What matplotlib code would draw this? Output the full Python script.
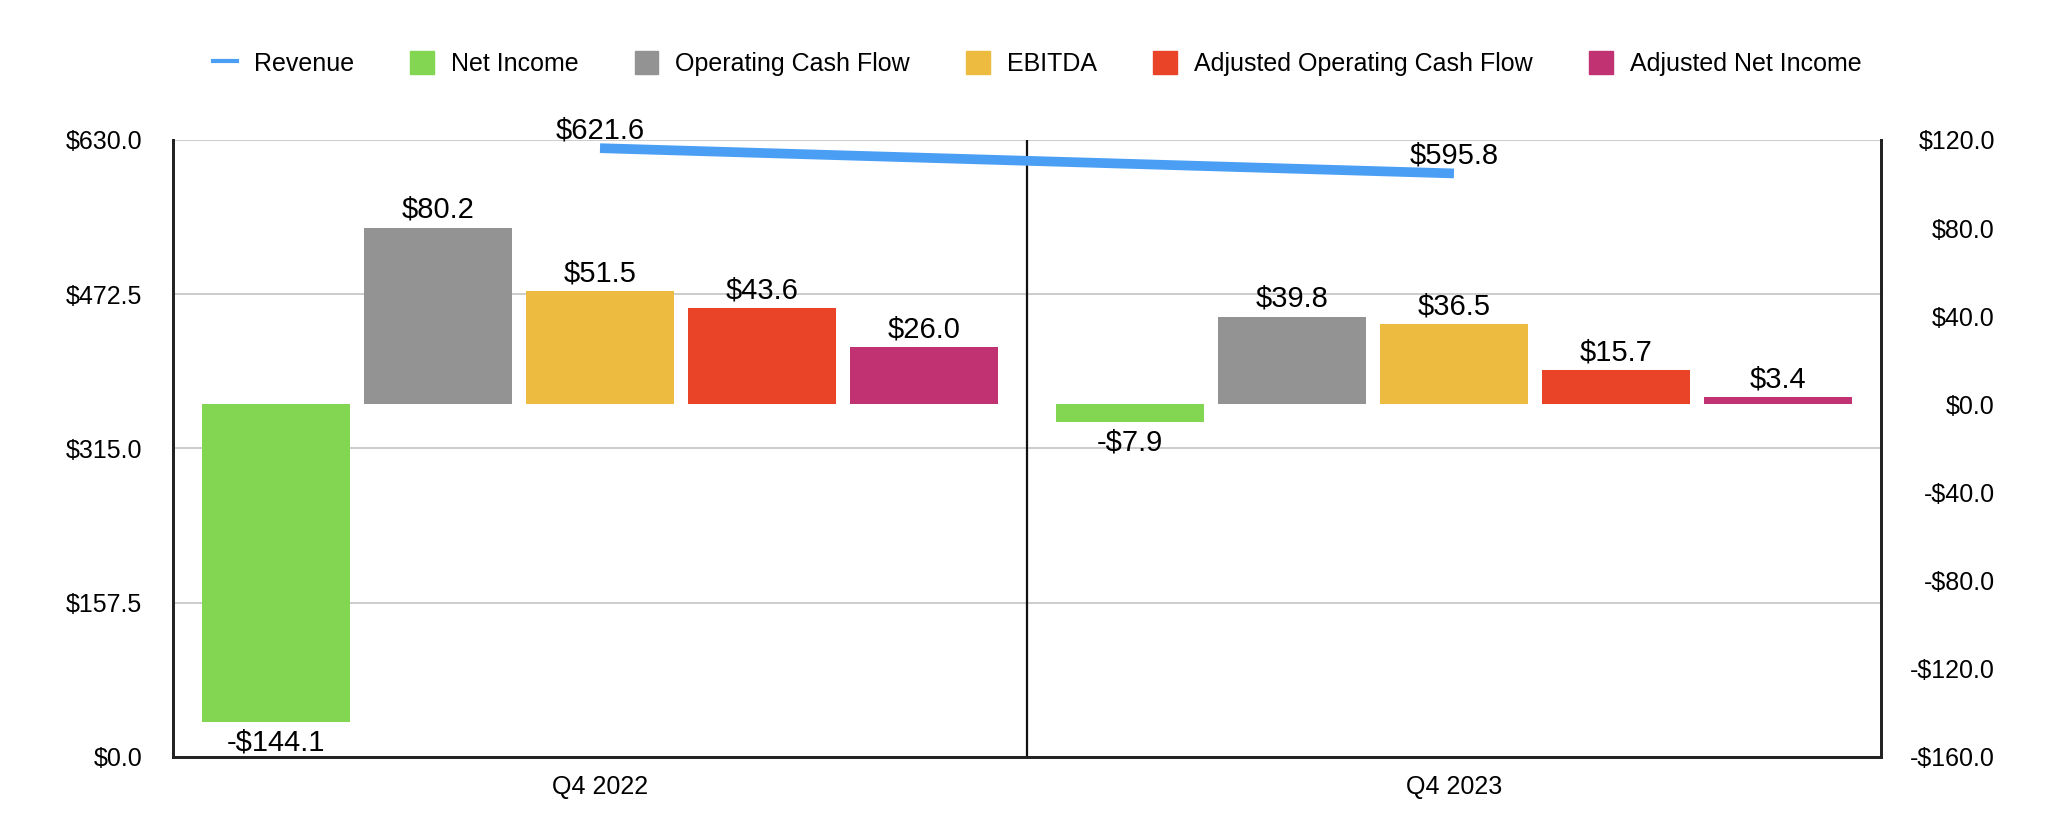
import numpy as np
import matplotlib
matplotlib.use("Agg")
import matplotlib.pyplot as plt
from matplotlib.lines import Line2D
from matplotlib.patches import Patch

quarters = ["Q4 2022", "Q4 2023"]
revenue = [621.6, 595.8]
series_names = ["Net Income", "Operating Cash Flow", "EBITDA",
                "Adjusted Operating Cash Flow", "Adjusted Net Income"]
net_income = [-144.1, -7.9]
op_cash_flow = [80.2, 39.8]
ebitda = [51.5, 36.5]
adj_op_cash_flow = [43.6, 15.7]
adj_net_income = [26.0, 3.4]
series_values = [net_income, op_cash_flow, ebitda, adj_op_cash_flow, adj_net_income]
left_ticks = [0.0, 157.5, 315.0, 472.5, 630.0]
right_ticks = [-160, -120, -80, -40, 0, 40, 80, 120]

colors = ["#82d652", "#939393", "#eebb41", "#e94427", "#c13272"]
rev_color = "#4a9ff5"

plt.rcParams['font.family'] = ['Liberation Sans', 'DejaVu Sans']

fig = plt.figure(figsize=(20.62, 8.38), dpi=100)
ax = fig.add_axes([0.0839, 0.0967, 0.8283, 0.7363])
ax2 = ax.twinx()

x = np.arange(len(quarters))
slot = 0.1897
width = 0.173

def money(v):
    return f"${v:.1f}" if v >= 0 else f"-${abs(v):.1f}"

# bars on the right axis (drawn above the left axis grid)
for i, (name, vals) in enumerate(zip(series_names, series_values)):
    xs = x + (i - 2) * slot
    ax2.bar(xs, vals, width=width, color=colors[i], zorder=3)
    for xi, v in zip(xs, vals):
        if v >= 0:
            ax2.annotate(money(v), (xi, v), xytext=(0, 7), textcoords="offset points",
                         ha="center", va="baseline", fontsize=21)
        else:
            ax2.annotate(money(v), (xi, v), xytext=(0, -5), textcoords="offset points",
                         ha="center", va="top", fontsize=21)

# revenue line on the left axis
ax.plot(x, revenue, color=rev_color, lw=7, solid_capstyle="butt", zorder=5)
for xi, v in zip(x, revenue):
    ax.annotate(money(v), (xi, v), xytext=(0, 7), textcoords="offset points",
                ha="center", va="baseline", fontsize=21, zorder=6)

ax.set_xlim(-0.5, 1.5)
ax.set_ylim(0, 630)
ax.set_yticks(left_ticks)
ax.set_yticklabels([money(t) for t in left_ticks], fontsize=18)
ax.grid(axis="y", color="#c4c4c4", lw=1.2)
ax.set_axisbelow(True)
ax.set_xticks(x)
ax.set_xticklabels(quarters, fontsize=18)
ax.tick_params(axis="y", length=0, pad=22)
ax.tick_params(axis="x", length=0, pad=13)
ax.axvline(0.5, color="#111111", lw=1.6)

ax2.set_ylim(-160, 120)
ax2.set_yticks(right_ticks)
ax2.set_yticklabels([money(t) for t in right_ticks], fontsize=18, ha="right")
ax2.tick_params(length=0, pad=82)
for a in (ax, ax2):
    a.spines["top"].set_visible(False)
    for s in ("left", "right", "bottom"):
        a.spines[s].set_linewidth(2)
        a.spines[s].set_color("#222222")

handles = [Line2D([0], [0], color=rev_color, lw=3)]
handles += [Patch(color=c) for c in colors]
fig.legend(handles, ["Revenue"] + series_names, loc="center", bbox_to_anchor=(0.503, 0.924),
           ncol=6, frameon=False, fontsize=18, handlelength=0.95, handleheight=1.0,
           columnspacing=2.25, handletextpad=0.68)

fig.savefig("out.png", dpi=100)
